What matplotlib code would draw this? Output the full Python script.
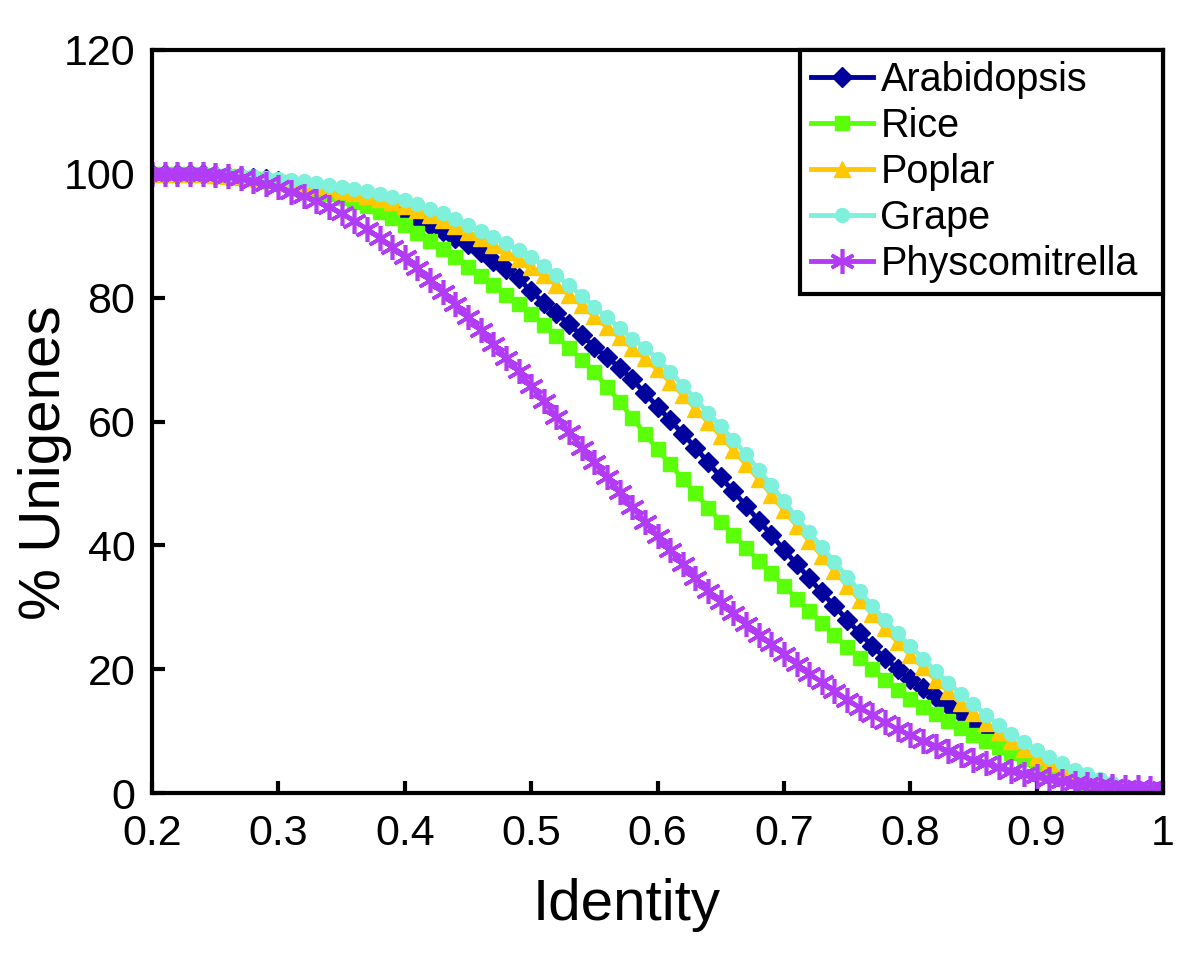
import numpy as np
import matplotlib.pyplot as plt
from matplotlib.ticker import FixedLocator, FixedFormatter

# identity thresholds 0.20 .. 1.00
identity = np.round(np.arange(0.20, 1.0001, 0.01), 2)

arabidopsis = [100, 100, 100, 99.9, 99.9, 99.8, 99.7, 99.5, 99.3, 99.1,
               98.8, 98.5, 98.1, 97.7, 97.3, 96.8, 96.3, 95.7, 95.1, 94.4,
               93.7, 92.8, 91.8, 90.8, 89.7, 88.6, 87.3, 86.0, 84.6, 83.1,
               81.0, 79.2, 77.5, 75.7, 73.9, 72.1, 70.4, 68.7, 66.8, 64.6,
               62.4, 60.2, 58.0, 55.8, 53.4, 51.0, 48.7, 46.4, 44.0, 41.7,
               39.3, 37.0, 34.7, 32.4, 30.2, 28.0, 25.8, 23.7, 21.8, 20.0,
               18.4, 16.9, 15.5, 14.2, 12.9, 11.5, 10.0, 8.6, 7.2, 5.9,
               4.7, 3.7, 2.8, 2.1, 1.5, 1.0, 0.7, 0.4, 0.3, 0.2,
               0.1]

rice = [100, 100, 100, 99.9, 99.8, 99.7, 99.6, 99.4, 99.2, 98.9,
        98.6, 98.2, 97.8, 97.3, 96.7, 96.1, 95.5, 94.8, 93.8, 92.8,
        91.8, 90.5, 89.2, 87.9, 86.6, 85.0, 83.5, 82.0, 80.5, 79.0,
        77.4, 75.6, 73.8, 71.9, 70.0, 68.0, 65.6, 63.2, 60.6, 58.0,
        55.5, 53.1, 50.7, 48.4, 46.1, 43.8, 41.7, 39.6, 37.5, 35.5,
        33.5, 31.4, 29.4, 27.4, 25.5, 23.6, 21.8, 20.0, 18.3, 16.7,
        15.2, 13.9, 12.7, 11.6, 10.5, 9.4, 8.4, 7.4, 6.5, 5.5,
        4.5, 3.5, 2.6, 1.9, 1.3, 0.9, 0.6, 0.4, 0.2, 0.1,
        0.1]

poplar = [100, 100, 100, 100, 99.9, 99.8, 99.7, 99.6, 99.4, 99.2,
          99.0, 98.7, 98.4, 98.1, 97.7, 97.3, 96.9, 96.4, 95.9, 95.4,
          94.8, 94.1, 93.3, 92.5, 91.6, 90.6, 89.6, 88.5, 87.4, 86.2,
          85.0, 83.6, 82.1, 80.5, 78.8, 77.0, 75.3, 73.6, 71.9, 70.2,
          68.4, 66.4, 64.3, 62.1, 59.9, 57.7, 55.4, 53.1, 50.7, 48.2,
          45.7, 43.2, 40.7, 38.3, 35.9, 33.5, 31.2, 28.9, 26.6, 24.4,
          22.3, 20.3, 18.3, 16.4, 14.6, 12.9, 11.3, 9.8, 8.4, 7.1,
          5.9, 4.8, 3.8, 3.0, 2.3, 1.7, 1.2, 0.8, 0.5, 0.3,
          0.1]

grape = [100, 100, 100, 100, 99.9, 99.9, 99.8, 99.7, 99.6, 99.4,
         99.2, 99.0, 98.8, 98.5, 98.2, 97.9, 97.6, 97.2, 96.8, 96.3,
         95.8, 95.1, 94.4, 93.6, 92.7, 91.8, 90.8, 89.8, 88.8, 87.7,
         86.6, 85.1, 83.6, 82.0, 80.3, 78.5, 76.8, 75.1, 73.4, 71.9,
         70.1, 68.0, 65.8, 63.6, 61.4, 59.2, 57.0, 54.7, 52.2, 49.7,
         47.1, 44.5, 42.1, 39.7, 37.3, 34.9, 32.6, 30.2, 27.9, 25.8,
         23.7, 21.7, 19.7, 17.8, 16.0, 14.3, 12.6, 11.0, 9.5, 8.2,
         7.0, 5.9, 4.8, 3.8, 3.0, 2.3, 1.6, 1.1, 0.7, 0.4,
         0.2]

physcomitrella = [100, 100, 100, 100, 99.9, 99.8, 99.6, 99.3, 98.9, 98.4,
                  97.8, 97.1, 96.4, 95.6, 94.7, 93.6, 92.4, 91.1, 89.7, 88.2,
                  86.6, 84.8, 82.9, 80.9, 78.9, 76.9, 74.7, 72.5, 70.3, 68.1,
                  65.7, 63.3, 60.8, 58.3, 55.8, 53.4, 51.0, 48.6, 46.2, 43.8,
                  41.5, 39.2, 37.0, 34.8, 32.7, 30.8, 29.0, 27.3, 25.6, 24.0,
                  22.4, 20.8, 19.3, 17.9, 16.5, 15.1, 13.8, 12.6, 11.4, 10.3,
                  9.3, 8.4, 7.6, 6.8, 6.1, 5.4, 4.8, 4.2, 3.6, 3.1,
                  2.7, 2.3, 2.0, 1.7, 1.5, 1.3, 1.1, 1.0, 0.9, 0.8,
                  0.8]

xticks = [0.2, 0.3, 0.4, 0.5, 0.6, 0.7, 0.8, 0.9, 1.0]
xticklabels = ['0.2', '0.3', '0.4', '0.5', '0.6', '0.7', '0.8', '0.9', '1']
yticks = [0, 20, 40, 60, 80, 100, 120]

plt.rcParams['font.family'] = ['Liberation Sans', 'DejaVu Sans']

fig = plt.figure(figsize=(12, 9.65), dpi=100, facecolor='w')
ax = fig.add_axes([0.1267, 0.1782, 0.8425, 0.770])

ax.plot(identity, arabidopsis, '-D', color='#00009C', lw=3.5, ms=10, label='Arabidopsis')
ax.plot(identity, rice, '-s', color='#5CFF0A', lw=3.5, ms=9.5, label='Rice')
ax.plot(identity, poplar, '-^', color='#FFC800', lw=3.5, ms=11.5, label='Poplar')
ax.plot(identity, grape, '-o', color='#7FF0DC', lw=3.5, ms=10, label='Grape')
ax.plot(identity, physcomitrella, '-', color='#B23CF5', lw=3.5, ms=18,
        marker=(6, 2, 0), mew=2.6, label='Physcomitrella')

ax.set_xlim(0.2, 1.0)
ax.set_ylim(0, 120)
ax.xaxis.set_major_locator(FixedLocator(xticks))
ax.xaxis.set_major_formatter(FixedFormatter(xticklabels))
ax.set_yticks(yticks)
ax.tick_params(direction='in', length=9, width=3, labelsize=31, pad=15)
ax.tick_params(axis='y', pad=12)
for s in ax.spines.values():
    s.set_linewidth(3)

ax.set_xlabel('Identity', fontsize=42)
ax.set_ylabel('% Unigenes', fontsize=42)
ax.xaxis.set_label_coords(0.469, -0.115)
ax.yaxis.set_label_coords(-0.079, 0.445)

leg = ax.legend(loc='upper right', bbox_to_anchor=(0.641, 0.0, 0.359, 1.0),
                mode='expand', fontsize=28.5, frameon=True, fancybox=False,
                borderaxespad=0, handlelength=1.55, handletextpad=0.2,
                labelspacing=0.2, borderpad=0.28)
leg.get_frame().set_edgecolor('k')
leg.get_frame().set_linewidth(3)
leg.get_frame().set_alpha(1)

fig.savefig('out.png', dpi=100)
